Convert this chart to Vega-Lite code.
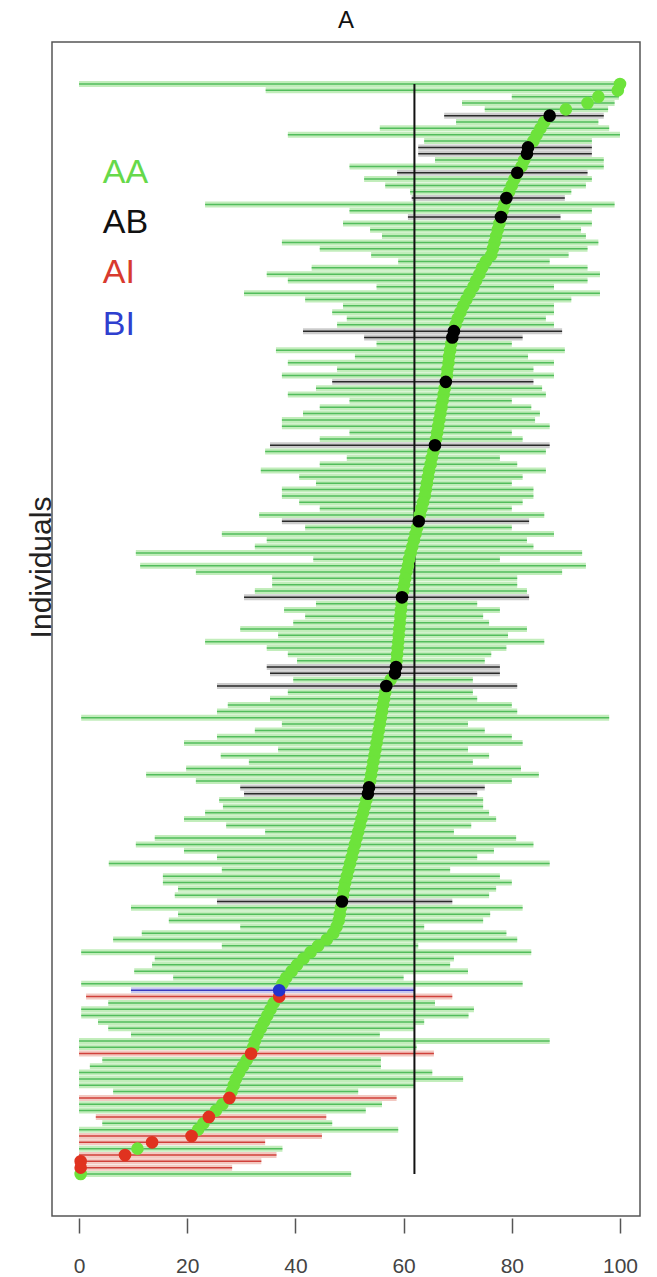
{
  "$schema": "https://vega.github.io/schema/vega-lite/v6.json",
  "width": 588,
  "height": 1174,
  "autosize": {"type": "none"},
  "padding": {"left": 52, "top": 42, "right": 17, "bottom": 61},
  "background": "white",
  "title": {"text": "A", "fontSize": 24, "font": "Liberation Sans", "fontWeight": "normal", "offset": 9, "color": "#111"},
  "config": {"view": {"stroke": "#555", "strokeWidth": 1.5}, "font": "Liberation Sans"},
  "datasets": {
    "ind": [
    {"id":173,"v":100,"lo":0,"hi":100,"g":"AA"},
    {"id":172,"v":99.6,"lo":34.5,"hi":100,"g":"AA"},
    {"id":171,"v":96,"lo":80,"hi":99.8,"g":"AA"},
    {"id":170,"v":94,"lo":70.8,"hi":99,"g":"AA"},
    {"id":169,"v":90,"lo":75,"hi":97.8,"g":"AA"},
    {"id":168,"v":87,"lo":67.5,"hi":97,"g":"AB"},
    {"id":167,"v":86,"lo":69.7,"hi":96,"g":"AA"},
    {"id":166,"v":85.3,"lo":55.6,"hi":98,"g":"AA"},
    {"id":165,"v":84.6,"lo":38.6,"hi":100,"g":"AA"},
    {"id":164,"v":84,"lo":63.8,"hi":94.8,"g":"AA"},
    {"id":163,"v":83,"lo":62.7,"hi":94.8,"g":"AB"},
    {"id":162,"v":82.8,"lo":62.7,"hi":94.8,"g":"AB"},
    {"id":161,"v":82.3,"lo":65.8,"hi":97,"g":"AA"},
    {"id":160,"v":81.8,"lo":50,"hi":97,"g":"AA"},
    {"id":159,"v":81,"lo":58.8,"hi":94,"g":"AB"},
    {"id":158,"v":80.5,"lo":52.7,"hi":94.8,"g":"AA"},
    {"id":157,"v":80,"lo":56.6,"hi":93.7,"g":"AA"},
    {"id":156,"v":79.5,"lo":61.2,"hi":91,"g":"AA"},
    {"id":155,"v":79,"lo":61.5,"hi":89.8,"g":"AB"},
    {"id":154,"v":78.6,"lo":23.3,"hi":99,"g":"AA"},
    {"id":153,"v":78.3,"lo":50,"hi":94.8,"g":"AA"},
    {"id":152,"v":78,"lo":60.8,"hi":89,"g":"AB"},
    {"id":151,"v":77.7,"lo":48.8,"hi":94.8,"g":"AA"},
    {"id":150,"v":77.4,"lo":53.8,"hi":92.8,"g":"AA"},
    {"id":149,"v":77.1,"lo":56,"hi":93.7,"g":"AA"},
    {"id":148,"v":76.8,"lo":37.5,"hi":96,"g":"AA"},
    {"id":147,"v":76.5,"lo":44.5,"hi":94,"g":"AA"},
    {"id":146,"v":76.2,"lo":54,"hi":90.5,"g":"AA"},
    {"id":145,"v":75.2,"lo":59,"hi":87,"g":"AA"},
    {"id":144,"v":74.5,"lo":43,"hi":94,"g":"AA"},
    {"id":143,"v":74,"lo":34.7,"hi":96.3,"g":"AA"},
    {"id":142,"v":73.4,"lo":38.6,"hi":94,"g":"AA"},
    {"id":141,"v":72.9,"lo":55,"hi":87.8,"g":"AA"},
    {"id":140,"v":72.2,"lo":30.5,"hi":96.3,"g":"AA"},
    {"id":139,"v":71.6,"lo":41.8,"hi":91,"g":"AA"},
    {"id":138,"v":71,"lo":48.8,"hi":87.8,"g":"AA"},
    {"id":137,"v":70.5,"lo":46.8,"hi":87.8,"g":"AA"},
    {"id":136,"v":70,"lo":49.5,"hi":86.3,"g":"AA"},
    {"id":135,"v":69.6,"lo":47.7,"hi":87.8,"g":"AA"},
    {"id":134,"v":69.3,"lo":41.4,"hi":89.3,"g":"AB"},
    {"id":133,"v":69,"lo":52.7,"hi":82,"g":"AB"},
    {"id":132,"v":68.8,"lo":55,"hi":80,"g":"AA"},
    {"id":131,"v":68.6,"lo":36.4,"hi":89.8,"g":"AA"},
    {"id":130,"v":68.4,"lo":51,"hi":83,"g":"AA"},
    {"id":129,"v":68.3,"lo":38.6,"hi":87.8,"g":"AA"},
    {"id":128,"v":68.1,"lo":47.7,"hi":84,"g":"AA"},
    {"id":127,"v":68,"lo":37.5,"hi":87.8,"g":"AA"},
    {"id":126,"v":67.8,"lo":46.8,"hi":84,"g":"AB"},
    {"id":125,"v":67.6,"lo":43.8,"hi":85.6,"g":"AA"},
    {"id":124,"v":67.4,"lo":38.6,"hi":86.3,"g":"AA"},
    {"id":123,"v":67.2,"lo":50,"hi":80,"g":"AA"},
    {"id":122,"v":67,"lo":44.5,"hi":83.6,"g":"AA"},
    {"id":121,"v":66.8,"lo":41.4,"hi":85.2,"g":"AA"},
    {"id":120,"v":66.6,"lo":37.5,"hi":84.3,"g":"AA"},
    {"id":119,"v":66.4,"lo":37.5,"hi":87,"g":"AA"},
    {"id":118,"v":66.2,"lo":50,"hi":80,"g":"AA"},
    {"id":117,"v":66,"lo":44.5,"hi":82,"g":"AA"},
    {"id":116,"v":65.8,"lo":35.3,"hi":87,"g":"AB"},
    {"id":115,"v":65.5,"lo":34.4,"hi":86.3,"g":"AA"},
    {"id":114,"v":65.2,"lo":49.5,"hi":77.8,"g":"AA"},
    {"id":113,"v":65,"lo":44.5,"hi":81,"g":"AA"},
    {"id":112,"v":64.7,"lo":33.6,"hi":86.3,"g":"AA"},
    {"id":111,"v":64.5,"lo":40.7,"hi":82,"g":"AA"},
    {"id":110,"v":64.3,"lo":43.8,"hi":80,"g":"AA"},
    {"id":109,"v":64.1,"lo":37.5,"hi":84,"g":"AA"},
    {"id":108,"v":63.9,"lo":37.5,"hi":84,"g":"AA"},
    {"id":107,"v":63.6,"lo":40.7,"hi":82,"g":"AA"},
    {"id":106,"v":63.3,"lo":44.5,"hi":80,"g":"AA"},
    {"id":105,"v":63,"lo":33.3,"hi":86,"g":"AA"},
    {"id":104,"v":62.8,"lo":37.5,"hi":83.2,"g":"AB"},
    {"id":103,"v":62.5,"lo":41.8,"hi":80,"g":"AA"},
    {"id":102,"v":62.2,"lo":26.4,"hi":87.8,"g":"AA"},
    {"id":101,"v":61.9,"lo":34.7,"hi":82.8,"g":"AA"},
    {"id":100,"v":61.6,"lo":32.5,"hi":84,"g":"AA"},
    {"id":99,"v":61.3,"lo":10.5,"hi":93,"g":"AA"},
    {"id":98,"v":61,"lo":43.3,"hi":77.8,"g":"AA"},
    {"id":97,"v":60.8,"lo":11.3,"hi":93.7,"g":"AA"},
    {"id":96,"v":60.5,"lo":21.6,"hi":89.3,"g":"AA"},
    {"id":95,"v":60.3,"lo":35.7,"hi":81,"g":"AA"},
    {"id":94,"v":60.1,"lo":35.7,"hi":81,"g":"AA"},
    {"id":93,"v":59.9,"lo":32.5,"hi":82.8,"g":"AA"},
    {"id":92,"v":59.7,"lo":30.5,"hi":83.2,"g":"AB"},
    {"id":91,"v":59.6,"lo":43.8,"hi":73.6,"g":"AA"},
    {"id":90,"v":59.5,"lo":37.9,"hi":77.8,"g":"AA"},
    {"id":89,"v":59.4,"lo":41.8,"hi":74.7,"g":"AA"},
    {"id":88,"v":59.3,"lo":39.6,"hi":75.8,"g":"AA"},
    {"id":87,"v":59.2,"lo":29.8,"hi":82.8,"g":"AA"},
    {"id":86,"v":59.1,"lo":36.8,"hi":79.3,"g":"AA"},
    {"id":85,"v":59,"lo":23.3,"hi":86,"g":"AA"},
    {"id":84,"v":58.9,"lo":34.7,"hi":79,"g":"AA"},
    {"id":83,"v":58.8,"lo":38.6,"hi":76.2,"g":"AA"},
    {"id":82,"v":58.7,"lo":40.3,"hi":75,"g":"AA"},
    {"id":81,"v":58.6,"lo":34.7,"hi":77.8,"g":"AB"},
    {"id":80,"v":58.4,"lo":35.3,"hi":77.8,"g":"AB"},
    {"id":79,"v":57.6,"lo":39.6,"hi":72.8,"g":"AA"},
    {"id":78,"v":56.8,"lo":25.5,"hi":81,"g":"AB"},
    {"id":77,"v":56.6,"lo":38.6,"hi":72.8,"g":"AA"},
    {"id":76,"v":56.4,"lo":35.3,"hi":73.6,"g":"AA"},
    {"id":75,"v":56.2,"lo":27.5,"hi":80,"g":"AA"},
    {"id":74,"v":56,"lo":25.5,"hi":81,"g":"AA"},
    {"id":73,"v":55.8,"lo":0.4,"hi":98,"g":"AA"},
    {"id":72,"v":55.6,"lo":37.5,"hi":71.9,"g":"AA"},
    {"id":71,"v":55.4,"lo":32.5,"hi":75,"g":"AA"},
    {"id":70,"v":55.2,"lo":25.5,"hi":80,"g":"AA"},
    {"id":69,"v":55,"lo":19.4,"hi":82,"g":"AA"},
    {"id":68,"v":54.8,"lo":36.8,"hi":71.9,"g":"AA"},
    {"id":67,"v":54.6,"lo":26.2,"hi":75.8,"g":"AA"},
    {"id":66,"v":54.4,"lo":31.4,"hi":72.8,"g":"AA"},
    {"id":65,"v":54.2,"lo":19.8,"hi":81.7,"g":"AA"},
    {"id":64,"v":54,"lo":12.4,"hi":85,"g":"AA"},
    {"id":63,"v":53.8,"lo":21.6,"hi":80,"g":"AA"},
    {"id":62,"v":53.6,"lo":29.8,"hi":75,"g":"AB"},
    {"id":61,"v":53.4,"lo":30.5,"hi":73.6,"g":"AB"},
    {"id":60,"v":53.1,"lo":25.9,"hi":74.7,"g":"AA"},
    {"id":59,"v":52.8,"lo":26.6,"hi":74.7,"g":"AA"},
    {"id":58,"v":52.5,"lo":23.3,"hi":75.8,"g":"AA"},
    {"id":57,"v":52.2,"lo":19.4,"hi":77.1,"g":"AA"},
    {"id":56,"v":51.9,"lo":27.2,"hi":72.5,"g":"AA"},
    {"id":55,"v":51.6,"lo":34.4,"hi":69.3,"g":"AA"},
    {"id":54,"v":51.3,"lo":14,"hi":80.8,"g":"AA"},
    {"id":53,"v":51,"lo":10.5,"hi":84,"g":"AA"},
    {"id":52,"v":50.7,"lo":19.4,"hi":76.7,"g":"AA"},
    {"id":51,"v":50.4,"lo":25.5,"hi":73.6,"g":"AA"},
    {"id":50,"v":50.1,"lo":5.5,"hi":87,"g":"AA"},
    {"id":49,"v":49.8,"lo":26.4,"hi":68.6,"g":"AA"},
    {"id":48,"v":49.5,"lo":15.5,"hi":77.8,"g":"AA"},
    {"id":47,"v":49.2,"lo":15.5,"hi":80,"g":"AA"},
    {"id":46,"v":49,"lo":18.3,"hi":77.1,"g":"AA"},
    {"id":45,"v":48.8,"lo":17.7,"hi":75.8,"g":"AA"},
    {"id":44,"v":48.6,"lo":25.5,"hi":69,"g":"AB"},
    {"id":43,"v":48.4,"lo":9.6,"hi":82,"g":"AA"},
    {"id":42,"v":48.2,"lo":18.3,"hi":76,"g":"AA"},
    {"id":41,"v":48,"lo":16.6,"hi":74.7,"g":"AA"},
    {"id":40,"v":47.6,"lo":29.8,"hi":63.8,"g":"AA"},
    {"id":39,"v":47,"lo":11.6,"hi":79,"g":"AA"},
    {"id":38,"v":45.8,"lo":6.3,"hi":81,"g":"AA"},
    {"id":37,"v":44.2,"lo":26.4,"hi":62.7,"g":"AA"},
    {"id":36,"v":42.8,"lo":0.4,"hi":83.6,"g":"AA"},
    {"id":35,"v":41.5,"lo":14,"hi":69.3,"g":"AA"},
    {"id":34,"v":40.3,"lo":13.5,"hi":68.6,"g":"AA"},
    {"id":33,"v":39.3,"lo":10.2,"hi":71.9,"g":"AA"},
    {"id":32,"v":38.3,"lo":17.4,"hi":60,"g":"AA"},
    {"id":31,"v":37.6,"lo":0.4,"hi":82,"g":"AA"},
    {"id":30,"v":37,"lo":9.6,"hi":62,"g":"BI"},
    {"id":29,"v":37,"lo":1.3,"hi":69,"g":"AI"},
    {"id":28,"v":36,"lo":5.4,"hi":65.8,"g":"AA"},
    {"id":27,"v":35.4,"lo":0.4,"hi":73,"g":"AA"},
    {"id":26,"v":34.8,"lo":0.4,"hi":72,"g":"AA"},
    {"id":25,"v":34.2,"lo":3.5,"hi":63.8,"g":"AA"},
    {"id":24,"v":33.6,"lo":5.4,"hi":62,"g":"AA"},
    {"id":23,"v":33,"lo":9.6,"hi":55.6,"g":"AA"},
    {"id":22,"v":32.5,"lo":0,"hi":87,"g":"AA"},
    {"id":21,"v":32.2,"lo":0,"hi":62.4,"g":"AA"},
    {"id":20,"v":31.8,"lo":0,"hi":65.6,"g":"AI"},
    {"id":19,"v":31,"lo":4.3,"hi":55.8,"g":"AA"},
    {"id":18,"v":30.3,"lo":2,"hi":55.8,"g":"AA"},
    {"id":17,"v":29.6,"lo":0,"hi":65.3,"g":"AA"},
    {"id":16,"v":29,"lo":0,"hi":71,"g":"AA"},
    {"id":15,"v":28.6,"lo":0,"hi":62,"g":"AA"},
    {"id":14,"v":28.2,"lo":6.3,"hi":51.6,"g":"AA"},
    {"id":13,"v":27.8,"lo":0,"hi":58.7,"g":"AI"},
    {"id":12,"v":26.5,"lo":0,"hi":56,"g":"AA"},
    {"id":11,"v":25.3,"lo":0,"hi":53,"g":"AA"},
    {"id":10,"v":24,"lo":3.1,"hi":45.7,"g":"AI"},
    {"id":9,"v":23,"lo":4.3,"hi":46.8,"g":"AA"},
    {"id":8,"v":22,"lo":0,"hi":59,"g":"AA"},
    {"id":7,"v":20.8,"lo":0,"hi":44.9,"g":"AI"},
    {"id":6,"v":13.5,"lo":0,"hi":34.4,"g":"AI"},
    {"id":5,"v":10.8,"lo":0,"hi":37.6,"g":"AA"},
    {"id":4,"v":8.5,"lo":0,"hi":36.5,"g":"AI"},
    {"id":3,"v":0.3,"lo":0,"hi":33.7,"g":"AI"},
    {"id":2,"v":0.3,"lo":0,"hi":28.3,"g":"AI"},
    {"id":1,"v":0.3,"lo":0,"hi":50.3,"g":"AA"}
    ],
    "AA": [{"g": "AA"}],
    "AB": [{"g": "AB"}],
    "AI": [{"g": "AI"}],
    "BI": [{"g": "BI"}]
  },
  "data": {"name": "ind"},
  "layer": [
    {
      "mark": {"type": "rule", "strokeWidth": 6},
      "encoding": {
        "y": {"field": "id", "type": "quantitative", "title": "Individuals",
              "scale": {"domain": [-5.63, 179.63], "nice": false, "zero": false},
              "axis": {"ticks": false, "labels": false, "domain": false, "grid": false, "titleFontSize": 30, "titleFontWeight": "normal", "titleFont": "Liberation Sans", "titleColor": "#222", "titlePadding": -4, "titleY": 525}},
        "x": {"field": "lo", "type": "quantitative", "title": null,
              "scale": {"domain": [-5, 103.7], "nice": false, "zero": false},
              "axis": {"values": [0, 20, 40, 60, 80, 100], "grid": false, "domain": false, "tickSize": 15, "tickColor": "#555", "tickWidth": 1.5, "offset": 2, "labelFontSize": 21, "labelColor": "#444", "labelPadding": 22, "labelFont": "Liberation Sans", "format": "d"}},
        "x2": {"field": "hi"},
        "stroke": {"field": "g", "type": "nominal", "legend": null,
                   "scale": {"domain": ["AA", "AB", "AI", "BI"], "range": ["#c2edbb", "#cccccc", "#f3c9c2", "#c8c8f0"]}}
      }
    },
    {
      "mark": {"type": "rule", "strokeWidth": 1.5},
      "encoding": {
        "y": {"field": "id", "type": "quantitative", "title": "Individuals"},
        "x": {"field": "lo", "type": "quantitative", "title": null},
        "x2": {"field": "hi"},
        "color": {"field": "g", "type": "nominal", "legend": null,
                  "scale": {"domain": ["AA", "AB", "AI", "BI"], "range": ["#52bd5c", "#2a2a2a", "#d0403a", "#3a3ac0"]}}
      }
    },
    {
      "transform": [{"aggregate": [{"op": "min", "field": "id", "as": "idmin"}, {"op": "max", "field": "id", "as": "idmax"}]}],
      "mark": {"type": "rule", "color": "#111", "strokeWidth": 2},
      "encoding": {
        "x": {"datum": 62, "type": "quantitative", "title": null},
        "y": {"field": "idmin", "type": "quantitative", "title": "Individuals"},
        "y2": {"field": "idmax"}
      }
    },
    {
      "mark": {"type": "circle", "size": 160, "opacity": 1},
      "encoding": {
        "y": {"field": "id", "type": "quantitative", "title": "Individuals"},
        "x": {"field": "v", "type": "quantitative", "title": null},
        "order": {"field": "g", "type": "nominal"},
        "fill": {"field": "g", "type": "nominal", "legend": null,
                 "scale": {"domain": ["AA", "AB", "AI", "BI"], "range": ["#6de33b", "#000000", "#e0321f", "#2233cc"]}}
      }
    },
    {
      "data": {"name": "AA"},
      "mark": {"type": "text", "align": "left", "baseline": "middle", "fontSize": 34, "font": "Liberation Sans", "color": "#66d94a"},
      "encoding": {"x": {"datum": 4.4, "type": "quantitative"}, "y": {"datum": 159, "type": "quantitative"}, "text": {"field": "g", "type": "nominal"}}
    },
    {
      "data": {"name": "AB"},
      "mark": {"type": "text", "align": "left", "baseline": "middle", "fontSize": 34, "font": "Liberation Sans", "color": "#111111"},
      "encoding": {"x": {"datum": 4.4, "type": "quantitative"}, "y": {"datum": 151.1, "type": "quantitative"}, "text": {"field": "g", "type": "nominal"}}
    },
    {
      "data": {"name": "AI"},
      "mark": {"type": "text", "align": "left", "baseline": "middle", "fontSize": 34, "font": "Liberation Sans", "color": "#d83a2e"},
      "encoding": {"x": {"datum": 4.4, "type": "quantitative"}, "y": {"datum": 143.1, "type": "quantitative"}, "text": {"field": "g", "type": "nominal"}}
    },
    {
      "data": {"name": "BI"},
      "mark": {"type": "text", "align": "left", "baseline": "middle", "fontSize": 34, "font": "Liberation Sans", "color": "#2f3fcf"},
      "encoding": {"x": {"datum": 4.4, "type": "quantitative"}, "y": {"datum": 134.9, "type": "quantitative"}, "text": {"field": "g", "type": "nominal"}}
    }
  ]
}
